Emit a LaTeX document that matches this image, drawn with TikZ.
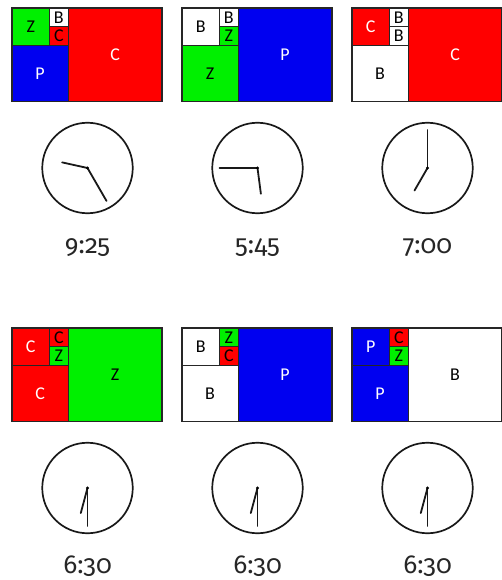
\documentclass[tikz,border=0pt]{standalone}
\usepackage{fontspec}
\setmainfont{Carlito}
\newfontfamily\timefont{Fira Sans}[Numbers=OldStyle]
\usetikzlibrary{positioning}

\definecolor{fibred}{RGB}{255,0,0}
\definecolor{fibgreen}{RGB}{0,240,0}
\definecolor{fibblue}{RGB}{0,0,240}

\tikzset{
  sq/.style={draw=black!85, line width=1.4pt, minimum size=#1, inner sep=0pt,
    outer sep=0pt, anchor=north west, font=\fontsize{18}{18}\selectfont},
  Cbox/.style={fill=fibred, text=white},
  Pbox/.style={fill=fibblue, text=white},
  Zbox/.style={fill=fibgreen, text=black},
  Bbox/.style={fill=white, text=black},
  tiny/.style={text=black},
  face/.style={circle, draw=black!90, line width=1.7pt, minimum size=90.5pt, inner sep=0pt},
  hand/.style={line width=1.8pt, draw=black!90, line cap=round},
  timelabel/.style={anchor=base, text=black!85, font=\timefont\fontsize{26}{26}\selectfont},
}

% #1 name, #2 x, #3 y, then 2x2, upper 1x1, lower 1x1, 3x3, 5x5
\newcommand\fibpanel[8]{%
  \node[sq=37.5pt, #4box] (#1-a) at (#2,#3) {#4};
  \node[sq=18.75pt, #5box, tiny] (#1-b) at (#1-a.north east) {#5};
  \node[sq=18.75pt, #6box, tiny] (#1-c) at (#1-b.south west) {#6};
  \node[sq=56.25pt, #7box] (#1-d) at (#1-a.south west) {#7};
  \node[sq=93.75pt, #8box] (#1-e) at (#1-b.north east) {#8};
}

% #1 name, #2 x, #3 y, #4 hour, #5 minute, #6 label
\newcommand\fibclock[6]{%
  \node[face] (#1) at (#2,#3) {};
  \draw[hand] (#1.center) -- ++({90-30*(#4+#5/60)}:26pt);
  \draw[hand] (#1.center) -- ++({90-6*#5}:38pt);
  \fill[black] (#1.center) circle (1.7pt);
  \node[timelabel] (#1-t) at ([yshift=-39pt]#1.south) {#6};
}

\begin{document}
\begin{tikzpicture}[x=1pt,y=-1pt]
  \useasboundingbox (0,0) rectangle (502,580);

  % top row
  \fibpanel{pa}{12}{8}{Z}{B}{C}{P}{C}
  \fibpanel{pb}{182}{8}{B}{B}{Z}{Z}{P}
  \fibpanel{pc}{352}{8}{C}{B}{B}{B}{C}
  \fibclock{ca}{87.5}{168}{9}{25}{9:25}
  \fibclock{cb}{257.5}{168}{5}{45}{5:45}
  \fibclock{cc}{427.5}{168}{7}{0}{7:00}

  % bottom row
  \fibpanel{pd}{12}{328}{C}{C}{Z}{C}{Z}
  \fibpanel{pe}{182}{328}{B}{Z}{C}{B}{P}
  \fibpanel{pf}{352}{328}{P}{C}{Z}{P}{B}
  \fibclock{cd}{87.5}{488}{6}{30}{6:30}
  \fibclock{ce}{257.5}{488}{6}{30}{6:30}
  \fibclock{cf}{427.5}{488}{6}{30}{6:30}
\end{tikzpicture}
\end{document}
